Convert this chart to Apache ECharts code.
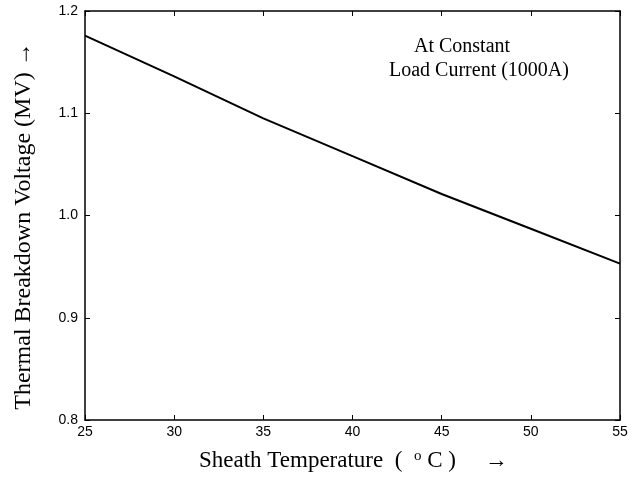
<!DOCTYPE html>
<html>
<head>
<meta charset="utf-8">
<script src="https://cdn.jsdelivr.net/npm/echarts@6/dist/echarts.min.js"></script>
<style>html,body{margin:0;padding:0;background:#fff;}#c{width:637px;height:479px;}</style>
</head>
<body>
<div id="c"></div>
<script>
const temperatures = [25, 30, 35, 40, 45, 50, 55];
const voltages = [1.176, 1.136, 1.095, 1.058, 1.021, 0.987, 0.953];
const xTicks = [25, 30, 35, 40, 45, 50, 55];
const yTicks = [0.8, 0.9, 1.0, 1.1, 1.2];

const chart = echarts.init(document.getElementById('c'), null, {renderer: 'canvas'});
const serif = '"Liberation Serif", "Times New Roman", serif';
const sans = '"Liberation Sans", Arial, sans-serif';
const axisCommon = {
  axisLine: {show: true, lineStyle: {color: '#000', width: 1.5}},
  axisTick: {show: true, inside: true, length: 5, lineStyle: {color: '#000', width: 1}},
  splitLine: {show: false}
};
chart.setOption({
  animation: false,
  backgroundColor: '#fff',
  grid: {left: 85, right: 17, top: 11, bottom: 59},
  xAxis: [
    Object.assign({type: 'value', position: 'bottom', min: xTicks[0], max: xTicks[xTicks.length-1], interval: 5,
      axisLabel: {color: '#000', fontFamily: sans, fontSize: 14, margin: 5}}, axisCommon),
    Object.assign({type: 'value', position: 'top', min: xTicks[0], max: xTicks[xTicks.length-1], interval: 5,
      axisLabel: {show: false}}, axisCommon)
  ],
  yAxis: [
    Object.assign({type: 'value', position: 'left', min: yTicks[0], max: yTicks[yTicks.length-1], interval: 0.1,
      axisLabel: {color: '#000', fontFamily: sans, fontSize: 14, margin: 7, formatter: v => v.toFixed(1)}}, axisCommon),
    Object.assign({type: 'value', position: 'right', min: yTicks[0], max: yTicks[yTicks.length-1], interval: 0.1,
      axisLabel: {show: false}}, axisCommon)
  ],
  series: [{
    type: 'line',
    data: temperatures.map((t, i) => [t, voltages[i]]),
    showSymbol: false,
    lineStyle: {color: '#000', width: 2},
    xAxisIndex: 0, yAxisIndex: 0
  }],
  graphic: [
    {type: 'text', x: 414, y: 47, style: {text: 'At Constant', font: '20px ' + serif, fill: '#000',
      align: 'left', verticalAlign: 'middle', textAlign: 'left', textVerticalAlign: 'middle'}},
    {type: 'text', x: 389, y: 71, style: {text: 'Load Current (1000A)', font: '20px ' + serif, fill: '#000',
      align: 'left', verticalAlign: 'middle', textAlign: 'left', textVerticalAlign: 'middle'}},
    {type: 'text', x: 199, y: 461, style: {
      text: 'Sheath Temperature  (  {s|o} C )     →',
      font: '23px ' + serif, fill: '#000',
      align: 'left', verticalAlign: 'middle', textAlign: 'left', textVerticalAlign: 'middle',
      rich: {s: {fontSize: 15, fontFamily: serif, verticalAlign: 'top', padding: [0, 0, 10, 0]}}
    }},
    {type: 'text', x: 24, y: 226, rotation: Math.PI / 2, style: {
      text: 'Thermal Breakdown Voltage (MV) →', font: '24px ' + serif, fill: '#000',
      align: 'center', verticalAlign: 'middle', textAlign: 'center', textVerticalAlign: 'middle'
    }}
  ]
});
</script>
</body>
</html>
